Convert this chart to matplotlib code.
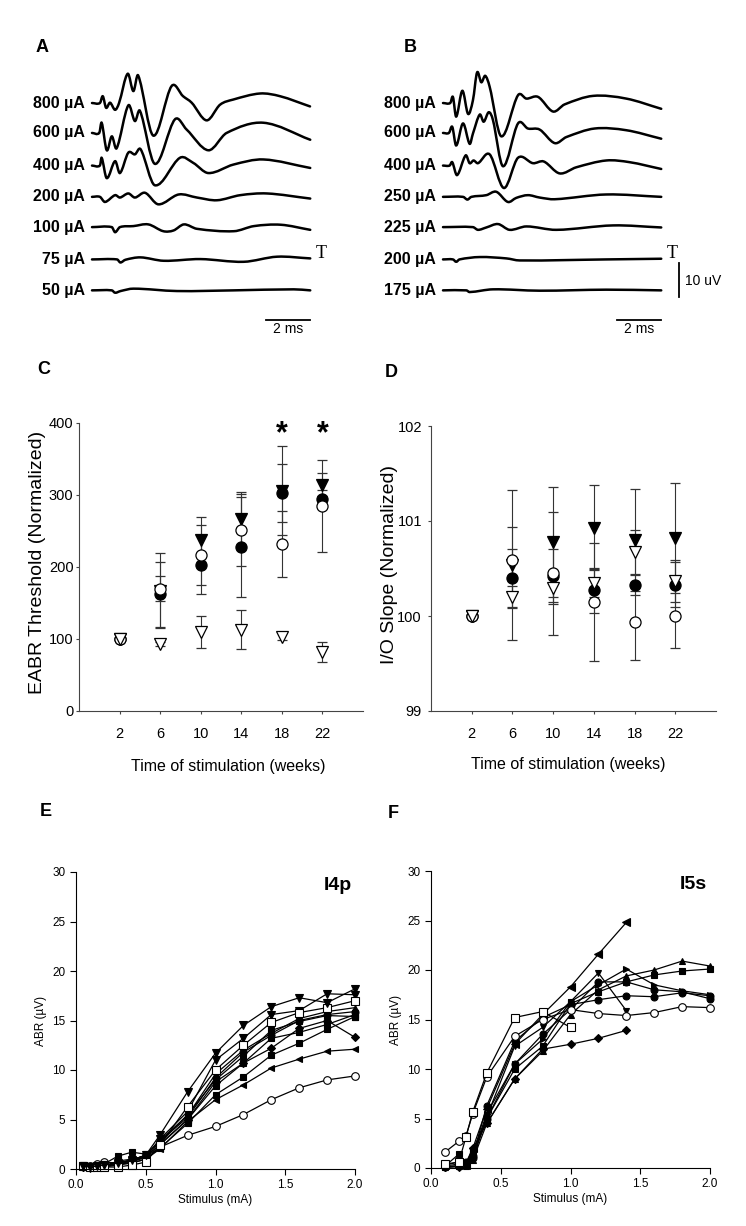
import matplotlib.pyplot as plt
from matplotlib.path import Path
from matplotlib.patches import PathPatch

W, H = 746, 1226
plt.rcParams['font.family'] = ['Liberation Sans', 'DejaVu Sans']

# ---------------- A / B : EABR waveforms (time in ms, amplitude in uV) ----------------
A_LABELS = ["800 µA", "600 µA", "400 µA", "200 µA", "100 µA", "75 µA", "50 µA"]
A_800 = [(0, 0), (0.36, 0), (0.49, 2.0), (0.64, -1.4), (0.82, 0.1), (1.05, -2.0), (1.23, 0),
         (1.62, 8.6), (1.88, 3.5), (2.10, 8.1), (2.79, -9.6), (3.62, 5.0), (4.14, 2.0),
         (4.53, 0.1), (5.21, -5.1), (5.82, -0.5), (6.41, 1.0), (7.64, 2.8), (8.55, 2.0), (9.91, -1.0)]
A_600 = [(0, 0), (0.33, 0), (0.44, 3.0), (0.67, -5.1), (0.9, -1.0), (1.12, -4.5), (1.65, 8.1),
         (1.95, 3.5), (2.18, 6.5), (2.86, -9.1), (3.77, 4.0), (4.3, 1.0), (5.29, -5.1),
         (6.12, 0), (7.79, 3.0), (9.92, -2.0)]
A_400 = [(0, 0), (0.36, 0), (0.44, 2.3), (0.67, -3.7), (1.05, 1.3), (1.27, -2.2), (1.65, 3.8),
         (1.95, 3.3), (2.21, 4.8), (2.86, -5.8), (4.0, 2.3), (4.6, 0.8), (5.29, -2.2),
         (6.43, 0.3), (7.79, 1.8), (9.92, -0.7)]
A_200 = [(0, 0), (0.36, 0), (0.59, -1.5), (1.05, 0.5), (1.27, -0.2), (1.65, 1.0), (1.95, -0.2),
         (2.41, 1.2), (3.02, -2.2), (3.94, 0.7), (4.77, -0.2), (5.68, -1.0), (6.74, 0.5),
         (7.95, 1.0), (9.92, -0.5)]
A_100 = [(0, 0), (0.9, 0), (1.05, -1.5), (1.27, 0), (1.88, 0.3), (2.56, 0.8), (3.24, -1.2),
         (3.7, -1.0), (4.18, 0.8), (4.77, -0.5), (6.45, -1.2), (7.36, 0.3), (8.58, 0.7), (9.92, -0.8)]
A_75 = [(0, 0), (1.14, 0), (1.29, -0.9), (1.52, -0.1), (2.2, 0.6), (3.26, -0.4), (4.92, 0.1),
        (6.89, -0.7), (8.41, 0.8), (9.92, 0.3)]
A_50 = [(0, 0), (0.9, 0), (1.05, -0.7), (1.3, -0.2), (1.88, 0.5), (3.86, -0.2), (6.45, 0),
        (9.17, 0.3), (9.92, 0)]

B_LABELS = ["800 µA", "600 µA", "400 µA", "250 µA", "225 µA", "200 µA", "175 µA"]
B_800 = [(0, 0), (0.33, 0), (0.45, 1.8), (0.6, -4.0), (0.88, 3.6), (1.14, -3.2), (1.36, 0.8),
         (1.55, 9.0), (1.74, 6.1), (1.92, 8.0), (2.12, 4.8), (2.65, -9.8), (3.41, 2.3),
         (3.79, 1.3), (4.32, 1.8), (5.0, -2.5), (5.53, -0.4), (6.82, 2.1), (8.33, 1.3), (9.92, -1.7)]
B_600 = [(0, 0), (0.27, 0), (0.42, 1.8), (0.6, -3.7), (0.91, 2.8), (1.21, -3.2), (1.36, -0.2),
         (1.67, 5.4), (1.85, 3.3), (2.08, 6.1), (2.27, 3.8), (2.73, -9.8), (3.41, 2.8),
         (3.86, 1.3), (4.39, 1.0), (5.08, -3.0), (5.61, -1.2), (6.89, 1.3), (8.33, 0.8), (9.92, -1.7)]
B_400 = [(0, 0), (0.3, 0), (0.42, 1.0), (0.64, -2.8), (1.03, 3.0), (1.21, 0.7), (1.39, 1.5),
         (1.59, 0.7), (2.12, 3.3), (2.77, -6.6), (3.41, 2.3), (4.09, 0.7), (4.58, 1.2),
         (5.3, -2.3), (6.06, -0.5), (7.42, 1.5), (8.48, 1.0), (9.92, -1.0)]
B_250 = [(0, 0), (0.91, 0), (1.11, -0.8), (1.29, 0), (1.97, 0.5), (2.42, 1.5), (2.95, -1.5),
         (3.33, -0.3), (3.86, 0.5), (4.39, -0.2), (5.08, -0.7), (7.42, 0.7), (9.92, 0)]
B_225 = [(0, 0), (1.36, 0), (1.59, -0.8), (1.97, -0.1), (2.5, 0.9), (3.03, -0.8), (3.79, 0.2),
         (5.15, -0.8), (7.73, 0.5), (9.92, -0.1)]
B_200 = [(0, 0), (0.45, 0), (0.6, -0.7), (0.75, 0), (1.67, 0.7), (2.88, 0.3), (3.48, -0.3),
         (7.42, 0), (9.92, 0.2)]
B_175 = [(0, 0), (1.06, 0), (1.21, -0.5), (2.27, 0.3), (4.39, -0.1), (7.42, 0.2), (9.92, 0)]

# ---------------- C / D : threshold and slope over time ----------------
WEEKS = [2, 6, 10, 14, 18, 22]
C_FILLED_CIRCLE = [100, 162, 203, 228, 303, 295]
C_FILLED_CIRCLE_ERR = [0, 45, 41, 69, 40, 12]
C_OPEN_CIRCLE = [100, 170, 217, 251, 232, 285]
C_OPEN_CIRCLE_ERR = [0, 17, 42, 50, 46, 64]
C_FILLED_TRI = [100, 167, 237, 267, 306, 314]
C_FILLED_TRI_ERR = [0, 52, 32, 37, 62, 16]
C_OPEN_TRI = [100, 93, 110, 113, 103, 82]
C_OPEN_TRI_ERR = [0, 3, 22, 27, 5, 14]
C_STARS = [18, 22]

D_FILLED_CIRCLE = [100, 100.40, 100.42, 100.27, 100.33, 100.33]
D_FILLED_CIRCLE_ERR = [0, 0.31, 0.29, 0.24, 0.11, 0.24]
D_OPEN_CIRCLE = [100, 100.59, 100.45, 100.15, 99.94, 100.0]
D_OPEN_CIRCLE_ERR = [0, 0.35, 0.65, 0.62, 0.40, 0.34]
D_FILLED_TRI = [100, 100.54, 100.78, 100.93, 100.80, 100.82]
D_FILLED_TRI_ERR = [0, 0.79, 0.58, 0.45, 0.54, 0.58]
D_OPEN_TRI = [100, 100.20, 100.29, 100.35, 100.67, 100.37]
D_OPEN_TRI_ERR = [0, 0.12, 0.14, 0.15, 0.24, 0.22]

# ---------------- E / F : input-output functions ----------------
E_STIM = [0.05, 0.1, 0.15, 0.2, 0.3, 0.4, 0.5, 0.6, 0.8, 1.0, 1.2, 1.4, 1.6, 1.8, 2.0]
E_V1 = [0.3, 0.2, 0.3, 0.4, 0.6, 0.9, 1.4, 3.4, 7.8, 11.7, 14.5, 16.4, 17.3, 16.8, 18.2]
E_V2 = [0.2, 0.1, 0.2, 0.3, 0.5, 0.8, 1.2, 3.0, 5.8, 11.0, 13.2, 15.6, 16.0, 17.7, 17.6]
E_SQ_OPEN = [0.3, 0.2, 0.2, 0.2, 0.2, 0.4, 0.7, 2.4, 6.3, 10.0, 12.5, 14.8, 15.8, 16.3, 17.0]
E_CIRC_OPEN = [0.3, 0.3, 0.5, 0.7, 0.6, 0.9, 1.2, 2.2, 3.4, 4.3, 5.5, 7.0, 8.2, 9.0, 9.4]
E_SQ1 = [0.4, 0.3, 0.3, 0.5, 1.3, 1.7, 1.5, 2.6, 5.5, 9.0, 11.4, 14.0, 14.9, 15.5, 15.4]
E_SQ2 = [0.3, 0.2, 0.2, 0.3, 0.8, 1.0, 1.3, 2.4, 5.0, 8.4, 10.7, 13.2, 13.8, 14.6, 15.6]
E_SQ3 = [0.2, 0.2, 0.2, 0.3, 0.5, 0.6, 1.0, 2.1, 4.6, 7.5, 9.3, 11.5, 12.7, 14.1, 15.4]
E_CIRC = [0.3, 0.2, 0.2, 0.3, 0.6, 0.9, 1.4, 2.8, 5.2, 9.2, 11.8, 13.5, 15.0, 15.6, 15.9]
E_DIAM = [0.2, 0.2, 0.2, 0.3, 0.5, 0.7, 1.2, 2.5, 5.0, 8.8, 10.7, 12.2, 14.2, 15.0, 13.3]
E_LEFT = [0.2, 0.1, 0.2, 0.2, 0.4, 0.6, 1.0, 2.0, 4.8, 7.0, 8.5, 10.2, 11.1, 11.9, 12.1]
E_UP = [0.3, 0.2, 0.3, 0.4, 0.6, 0.9, 1.4, 2.9, 5.4, 9.6, 12.0, 13.7, 15.2, 15.9, 16.3]

F_STIM = [0.1, 0.2, 0.25, 0.3, 0.4, 0.6, 0.8, 1.0, 1.2, 1.4, 1.6, 1.8, 2.0]
F_LEFT = [0.3, 0.6, 0.3, 2.0, 6.0, 12.5, 15.5, 18.3, 21.6, 24.8]
F_SQ_OPEN = [0.4, 0.6, 3.1, 5.7, 9.6, 15.2, 15.8, 14.2]
F_CIRC_OPEN = [1.6, 2.7, 3.2, 5.5, 9.2, 13.3, 15.0, 16.0, 15.6, 15.4, 15.7, 16.3, 16.2]
F_CIRC1 = [0.2, 0.4, 0.6, 1.2, 6.3, 12.8, 15.2, 16.5, 17.0, 17.4, 17.3, 17.7, 17.4]
F_CIRC2 = [0.1, 0.2, 0.3, 1.0, 5.0, 10.5, 13.5, 16.0, 18.8, 18.8, 18.0, 17.8, 17.1]
F_UP = [0.1, 0.2, 0.2, 0.8, 4.5, 9.0, 11.8, 15.5, 18.0, 19.4, 20.0, 20.9, 20.4]
F_SQ = [0.2, 1.4, 0.3, 1.6, 5.0, 10.0, 12.3, 16.6, 17.8, 18.8, 19.5, 19.9, 20.1]
F_DOWN = [0.1, 0.2, 0.2, 1.1, 5.2, 12.3, 14.2, 16.8, 19.7, 15.9]
F_RIGHT = [0.1, 0.2, 0.3, 1.4, 5.5, 10.5, 13.0, 16.8, 18.5, 20.1, 18.5, 17.9, 17.5]
F_DIAM = [0.1, 0.1, 0.5, 2.0, 4.5, 9.0, 12.0, 12.5, 13.1, 13.9]

TRACE_OFFSETS = [69.7, 60.9, 51.3, 42.1, 33.2, 23.7, 14.6]


def px_axes(fig, left, top, right, bottom):
    return fig.add_axes([left / W, 1 - bottom / H, (right - left) / W, (bottom - top) / H])


def panel_label(fig, x, y, s):
    fig.text(x / W, 1 - y / H, s, fontsize=13, fontweight='bold', va='center', ha='left')


# Smooth curve through the read points (cubic Hermite in time, so no loops)
def smooth_path(xs, ys):
    n = len(xs)
    slopes = []
    for i in range(n):
        lo, hi = max(i - 1, 0), min(i + 1, n - 1)
        slopes.append((ys[hi] - ys[lo]) / (xs[hi] - xs[lo]))
    verts = [(xs[0], ys[0])]
    codes = [Path.MOVETO]
    for i in range(n - 1):
        h = (xs[i + 1] - xs[i]) / 3
        verts += [(xs[i] + h, ys[i] + h * slopes[i]),
                  (xs[i + 1] - h, ys[i + 1] - h * slopes[i + 1]),
                  (xs[i + 1], ys[i + 1])]
        codes += [Path.CURVE4] * 3
    return Path(verts, codes)


# Draw the stacked waveform panel
def plot_traces(ax, traces, labels, t0_px, left_px, right_px):
    ax.set_xlim((left_px - t0_px) / 22, (right_px - t0_px) / 22)
    ax.set_ylim(0, 280 / 3.4)
    ax.axis('off')
    for trace, label, off in zip(traces, labels, TRACE_OFFSETS):
        t = [p[0] for p in trace]
        v = [p[1] + off for p in trace]
        ax.add_patch(PathPatch(smooth_path(t, v), fill=False, edgecolor='black', lw=1.8,
                               joinstyle='round', capstyle='round'))
        ax.text(-0.32, off, label, ha='right', va='center', fontsize=11.5, fontweight='bold')
    # 2 ms scale bar
    ax.plot([7.9, 9.9], [5.8, 5.8], color='black', lw=1.3)
    ax.text(8.9, 3.3, "2 ms", ha='center', va='center', fontsize=10)
    ax.text(10.15, 25.3, "T", ha='left', va='center', fontsize=13,
            family=['Liberation Serif', 'DejaVu Serif'])


def plot_time_panel(ax, series, ylim, yticks, ylabel, ypad):
    styles = [('o', 'black'), ('v', 'black'), ('o', 'white'), ('v', 'white')]
    for (vals, errs), (m, fc) in zip(series, styles):
        ax.errorbar(WEEKS, vals, yerr=errs, fmt=m, ms=8, mfc=fc, mec='black', mew=0.9,
                    ecolor='#333333', elinewidth=0.8, capsize=3.5, capthick=0.8)
    ax.set_xlim(-2, 26)
    ax.set_ylim(*ylim)
    ax.set_xticks(WEEKS)
    ax.set_yticks(yticks)
    for side in ['top', 'right']:
        ax.spines[side].set_visible(False)
    for side in ['left', 'bottom']:
        ax.spines[side].set_color('#444444')
        ax.spines[side].set_linewidth(0.8)
    ax.tick_params(direction='out', length=2.5, width=0.8, color='#444444', labelsize=10.5)
    ax.tick_params(axis='x', pad=9)
    ax.tick_params(axis='y', pad=ypad)
    ax.set_xlabel("Time of stimulation (weeks)", fontsize=11.5, va='top')
    ax.set_ylabel(ylabel, fontsize=14)
    ax.yaxis.set_label_coords(-0.116, 0.515)


def plot_io_panel(ax, x, series, title):
    for vals, m, fc, ms in series:
        ax.plot(x[:len(vals)], vals, marker=m, ms=ms, mfc=fc, mec='black', mew=0.8,
                color='black', lw=0.9, clip_on=False)
    ax.set_xlim(0, 2.0)
    ax.set_ylim(0, 30)
    ax.set_xticks([0.0, 0.5, 1.0, 1.5, 2.0])
    ax.set_xticklabels(["0.0", "0.5", "1.0", "1.5", "2.0"])
    ax.set_yticks([0, 5, 10, 15, 20, 25, 30])
    for side in ['top', 'right']:
        ax.spines[side].set_visible(False)
    ax.tick_params(direction='out', length=4.5, width=0.8, labelsize=8.5, pad=3)
    ax.set_xlabel("Stimulus (mA)", fontsize=8.5, labelpad=2)
    ax.set_ylabel("ABR (µV)", fontsize=8.5, labelpad=4)
    ax.text(1.98, 28.6, title, ha='right', va='center', fontsize=14, fontweight='bold')


fig = plt.figure(figsize=(W / 100, H / 100), dpi=100)

# Panel A
axA = px_axes(fig, 20, 60, 340, 340)
plot_traces(axA, [A_800, A_600, A_400, A_200, A_100, A_75, A_50], A_LABELS, 92, 20, 340)

# Panel B
axB = px_axes(fig, 372, 60, 730, 340)
plot_traces(axB, [B_800, B_600, B_400, B_250, B_225, B_200, B_175], B_LABELS, 443, 372, 730)
axB.plot([10.73, 10.73], [12.7, 22.7], color='black', lw=1.3)
axB.text(10.99, 17.4, "10 uV", ha='left', va='center', fontsize=10)

# Panel C
axC = px_axes(fig, 79, 423, 363, 711)
plot_time_panel(axC, [(C_FILLED_CIRCLE, C_FILLED_CIRCLE_ERR), (C_FILLED_TRI, C_FILLED_TRI_ERR),
                      (C_OPEN_CIRCLE, C_OPEN_CIRCLE_ERR), (C_OPEN_TRI, C_OPEN_TRI_ERR)],
                (0, 400), [0, 100, 200, 300, 400], "EABR Threshold (Normalized)", 1.5)
axC.xaxis.set_label_coords(0.525, -0.165)
for wk in C_STARS:
    axC.text(wk, 384, "*", ha='center', va='center', fontsize=22, fontweight='bold')

# Panel D
axD = px_axes(fig, 431, 426, 716, 711)
plot_time_panel(axD, [(D_FILLED_CIRCLE, D_FILLED_CIRCLE_ERR), (D_FILLED_TRI, D_FILLED_TRI_ERR),
                      (D_OPEN_CIRCLE, D_OPEN_CIRCLE_ERR), (D_OPEN_TRI, D_OPEN_TRI_ERR)],
                (99, 102), [99, 100, 101, 102], "I/O Slope (Normalized)", 4)
axD.xaxis.set_label_coords(0.48, -0.16)

# Panel E
axE = px_axes(fig, 76, 872, 355, 1169)
plot_io_panel(axE, E_STIM, [
    (E_CIRC_OPEN, 'o', 'white', 5.5), (E_LEFT, '<', 'black', 5), (E_SQ3, 's', 'black', 5),
    (E_SQ2, 's', 'black', 5), (E_DIAM, 'D', 'black', 4), (E_CIRC, 'o', 'black', 5),
    (E_SQ1, 's', 'black', 5), (E_UP, '^', 'black', 5), (E_V2, 'v', 'black', 5.5),
    (E_SQ_OPEN, 's', 'white', 5.5), (E_V1, 'v', 'black', 5.5)], "I4p")

# Panel F
axF = px_axes(fig, 431, 871, 710, 1168)
plot_io_panel(axF, F_STIM, [
    (F_DIAM, 'D', 'black', 4), (F_CIRC2, 'o', 'black', 5), (F_CIRC1, 'o', 'black', 5),
    (F_RIGHT, '>', 'black', 5), (F_DOWN, 'v', 'black', 5), (F_SQ, 's', 'black', 5),
    (F_UP, '^', 'black', 5), (F_LEFT, '<', 'black', 5.5), (F_CIRC_OPEN, 'o', 'white', 5.5),
    (F_SQ_OPEN, 's', 'white', 5.5)], "I5s")

panel_label(fig, 36, 47, "A")
panel_label(fig, 404, 47, "B")
panel_label(fig, 37, 369, "C")
panel_label(fig, 385, 373, "D")
panel_label(fig, 40, 812, "E")
panel_label(fig, 388, 813, "F")

fig.savefig("out.png", dpi=100)
